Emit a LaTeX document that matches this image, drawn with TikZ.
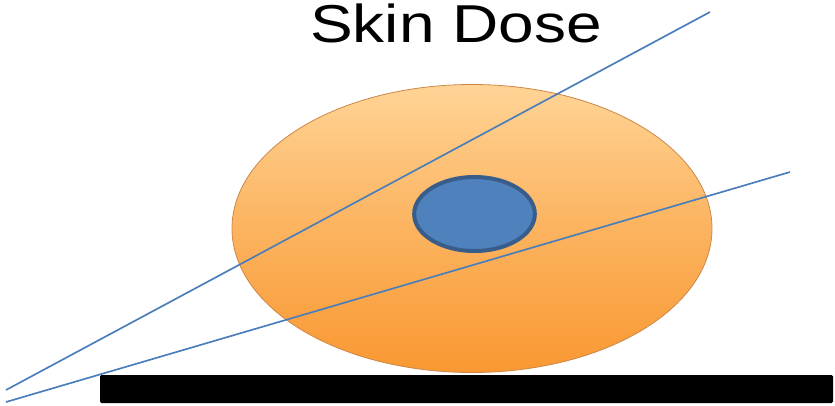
\documentclass[tikz,border=0pt]{standalone}
\usepackage{fontspec}
\setmainfont{Liberation Sans}
\usetikzlibrary{shapes.geometric}

\definecolor{bodytop}{RGB}{255,212,150}
\definecolor{bodybot}{RGB}{249,152,50}
\definecolor{bodyrim}{RGB}{205,135,70}
\definecolor{tumorfill}{RGB}{79,129,189}
\definecolor{tumorrim}{RGB}{56,93,138}
\definecolor{beam}{RGB}{74,126,187}

\begin{document}
\begin{tikzpicture}[
    x=0.75pt, y=-0.75pt,
    body/.style={ellipse, draw=bodyrim, line width=0.6pt, top color=bodytop, bottom color=bodybot, middle color=bodytop!45!bodybot, minimum width=360pt, minimum height=216pt, inner sep=0pt},
    tumor/.style={ellipse, draw=tumorrim, line width=3pt, fill=tumorfill, minimum width=90.5pt, minimum height=55.5pt, inner sep=0pt},
    couch/.style={rectangle, fill=black, rounded corners=1pt, minimum width=549.75pt, minimum height=21pt, inner sep=0pt},
    title/.style={font=\fontsize{40}{48}\selectfont, inner sep=0pt, anchor=base},
    beamline/.style={draw=beam, line width=1.25pt}
  ]
    \useasboundingbox (0,0) rectangle (835,405);

    \node[couch] (table) at (466.5,389) {};
    \node[body] (patient) at (472,228.5) {};
    \node[tumor] (target) at (474.5,214) {};
    \node[title] (label) at (456,42) {\scalebox{1.2}[1]{Skin Dose}};

    % beams
    \coordinate (b1start) at (6,390);
    \coordinate (b1end) at (710,12);
    \coordinate (b2start) at (6,402);
    \coordinate (b2end) at (790,172);
    \draw[beamline] (b1start) -- (b1end);
    \draw[beamline] (b2start) -- (b2end);
\end{tikzpicture}
\end{document}
